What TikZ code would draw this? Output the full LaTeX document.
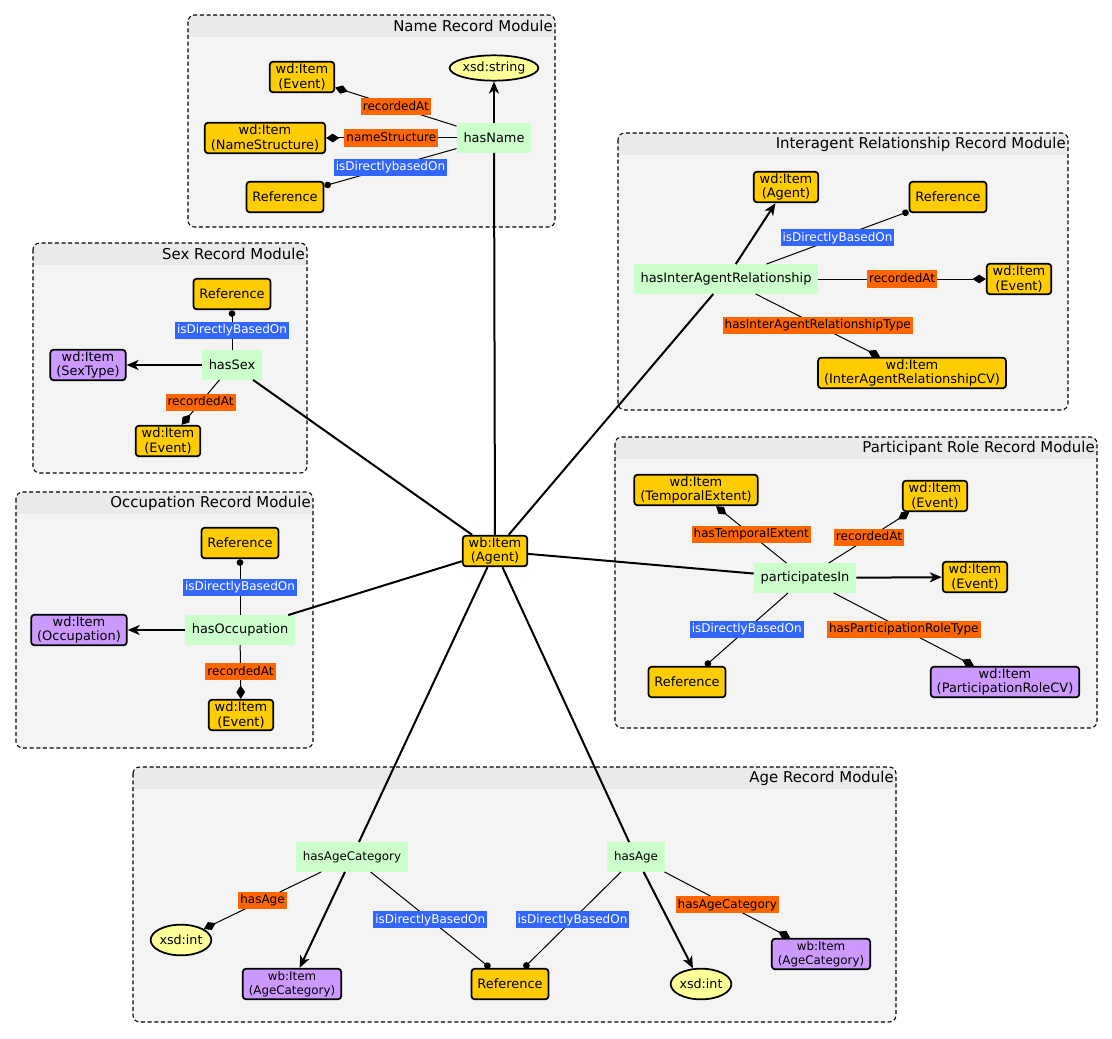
\documentclass[tikz,border=0pt]{standalone}
\usepackage{fontspec}
\setmainfont{DejaVu Sans}
\usetikzlibrary{arrows.meta,shapes.geometric,calc}
\definecolor{itemyellow}{HTML}{FFCC00}
\definecolor{itempurple}{HTML}{CC99FF}
\definecolor{propgreen}{HTML}{CCFFCC}
\definecolor{laborange}{HTML}{FF6600}
\definecolor{labblue}{HTML}{3366FF}
\definecolor{lityellow}{HTML}{FFFF99}
\definecolor{modfill}{HTML}{F4F4F4}
\definecolor{modhead}{HTML}{EAEAEA}
\tikzset{yitem/.style={draw, line width=1.3pt, rounded corners=2.5pt, fill=itemyellow,
      align=center, font=\fontsize{9.7}{11}\selectfont, minimum height=23pt,
      inner xsep=4.5pt, inner ysep=1pt},
    pitem/.style={yitem, fill=itempurple},
    propbox/.style={fill=propgreen, font=\fontsize{9.7}{11}\selectfont,
      minimum height=22pt, inner xsep=5pt},
    agefont/.style={font=\fontsize{8.9}{10.5}\selectfont},
    litnode/.style={ellipse, draw, line width=1.3pt, fill=lityellow, inner sep=0pt,
      font=\fontsize{9.5}{10}\selectfont},
    olabel/.style={fill=laborange, font=\fontsize{9}{10}\selectfont, inner xsep=1.5pt,
      inner ysep=2pt, text height=6.8pt, text depth=2pt},
    blabel/.style={olabel, fill=labblue, text=white},
    mainlink/.style={line width=1.5pt},
    sublink/.style={line width=0.75pt},
    toarrow/.style={mainlink, -{Stealth[length=9pt,width=7.5pt,inset=2.5pt]}},
    todiamond/.style={sublink, -{Diamond[length=10pt,width=6.5pt]}},
    todot/.style={sublink, -{Circle[length=5pt]}},}
% #1 name, #2 #3 top left, #4 #5 bottom right, #6 title
\newcommand{\recmodule}[6]{%
  \begin{scope}
    \clip[rounded corners=5pt] (#2,#3) rectangle (#4,#5);
    \fill[modfill] (#2,#3) rectangle (#4,#5);
    \fill[modhead] (#2,#3) rectangle (#4,#3+22);
  \end{scope}
  \draw[dashed, dash pattern=on 3pt off 2pt, line width=0.8pt, rounded corners=5pt]
    (#2,#3) rectangle (#4,#5);
  \node[anchor=east, font=\fontsize{11.2}{12}\selectfont, inner sep=0pt] (#1)
    at (#4-2,#3+11) {#6};}

\begin{document}
\begin{tikzpicture}[x=0.75pt, y=-0.75pt]
  \useasboundingbox (0,0) rectangle (1112,1038);
  \fill[white] (0,0) rectangle (1112,1038);
  % modules
  \recmodule{tname}{188}{15}{555}{227}{Name Record Module}
  \recmodule{tiar}{618}{133}{1068}{410}{Interagent Relationship Record Module}
  \recmodule{tsex}{33}{243}{307}{473}{Sex Record Module}
  \recmodule{tocc}{16}{492}{313}{748}{Occupation Record Module}
  \recmodule{tpart}{615}{437}{1097}{728}{Participant Role Record Module}
  \recmodule{tage}{133}{767}{896}{1022}{Age Record Module}
  % nodes
  \node[yitem] (agent) at (495,551) {wb:Item\\(Agent)};
  \node[litnode, minimum width=59pt, minimum height=19pt] (nstr) at (494,68) {xsd:string};
  \node[yitem] (nevent) at (302,77) {wd:Item\\(Event)};
  \node[yitem] (nstruct) at (265,138) {wd:Item\\(NameStructure)};
  \node[yitem] (nref) at (285,197) {Reference};
  \node[propbox] (hasname) at (494,138) {hasName};
  \node[yitem] (iagent) at (786,187) {wd:Item\\(Agent)};
  \node[yitem] (iref) at (948,197) {Reference};
  \node[propbox] (hasiar) at (726,279) {hasInterAgentRelationship};
  \node[yitem] (ievent) at (1019,279) {wd:Item\\(Event)};
  \node[yitem] (icv) at (912,373) {wd:Item\\(InterAgentRelationshipCV)};
  \node[yitem] (sref) at (232,294) {Reference};
  \node[propbox] (hassex) at (232,365) {hasSex};
  \node[pitem] (stype) at (88,365) {wd:Item\\(SexType)};
  \node[yitem] (sevent) at (168,441) {wd:Item\\(Event)};
  \node[yitem] (oref) at (240,543) {Reference};
  \node[propbox] (hasocc) at (240,630) {hasOccupation};
  \node[pitem] (otype) at (79,630) {wd:Item\\(Occupation)};
  \node[yitem] (oevent) at (241,715) {wd:Item\\(Event)};
  \node[yitem] (ptemp) at (696,490) {wd:Item\\(TemporalExtent)};
  \node[yitem] (prec) at (935,496) {wd:Item\\(Event)};
  \node[propbox] (partin) at (805,578) {participatesIn};
  \node[yitem] (pevent) at (975,577) {wd:Item\\(Event)};
  \node[yitem] (pref) at (687,682) {Reference};
  \node[pitem] (prole) at (1005,682) {wd:Item\\(ParticipationRoleCV)};
  \node[propbox, agefont] (hasagecat) at (352,857) {hasAgeCategory};
  \node[litnode, minimum width=42pt, minimum height=23pt] (aint1) at (181,940) {xsd:int};
  \node[pitem, agefont] (acat1) at (292,984) {wb:Item\\(AgeCategory)};
  \node[yitem] (aref) at (510,984) {Reference};
  \node[propbox, agefont] (hasage) at (636,857) {hasAge};
  \node[litnode, minimum width=44pt, minimum height=23pt] (aint2) at (701,984) {xsd:int};
  \node[pitem, agefont] (acat2) at (821,954) {wb:Item\\(AgeCategory)};
  \coordinate (arefl) at ($(aref.north)+(-20,0)$);
  \coordinate (arefr) at ($(aref.north)+(14,0)$);
  % links from the agent
  \draw[mainlink] (agent) -- (hasname);
  \draw[mainlink] (agent) -- (hasiar);
  \draw[mainlink] (agent) -- (hassex);
  \draw[mainlink] (agent) -- (hasocc);
  \draw[mainlink] (agent) -- (partin);
  \draw[mainlink] (agent) -- (hasagecat);
  \draw[mainlink] (agent) -- (hasage);
  % name
  \draw[toarrow] (hasname) -- (nstr);
  \draw[todiamond] (hasname) -- node[olabel] (l1) {recordedAt} (nevent);
  \draw[todiamond] (hasname) -- node[olabel] (l2) {nameStructure} (nstruct);
  \draw[todot] (hasname) -- node[blabel] (l3) {isDirectlybasedOn} (nref);
  % interagent
  \draw[toarrow] (hasiar) -- (iagent);
  \draw[todot] (hasiar) -- node[blabel] (l4) {isDirectlyBasedOn} (iref);
  \draw[todiamond] (hasiar) -- node[olabel] (l5) {recordedAt} (ievent);
  \draw[todiamond] (hasiar) -- node[olabel] (l6) {hasInterAgentRelationshipType} (icv);
  % sex
  \draw[todot] (hassex) -- node[blabel] (l7) {isDirectlyBasedOn} (sref);
  \draw[toarrow] (hassex) -- (stype);
  \draw[todiamond] (hassex) -- node[olabel] (l8) {recordedAt} (sevent);
  % occupation
  \draw[todot] (hasocc) -- node[blabel] (l9) {isDirectlyBasedOn} (oref);
  \draw[toarrow] (hasocc) -- (otype);
  \draw[todiamond] (hasocc) -- node[olabel] (l10) {recordedAt} (oevent);
  % participant role
  \draw[todiamond] (partin) -- node[olabel] (l11) {hasTemporalExtent} (ptemp);
  \draw[todiamond] (partin) -- node[olabel] (l12) {recordedAt} (prec);
  \draw[toarrow] (partin) -- (pevent);
  \draw[todot] (partin) -- node[blabel] (l13) {isDirectlyBasedOn} (pref);
  \draw[todiamond] (partin) -- node[olabel] (l14) {hasParticipationRoleType} (prole);
  % age
  \draw[todiamond] (hasagecat) -- node[olabel] (l15) {hasAge} (aint1);
  \draw[toarrow] (hasagecat) -- (acat1);
  \draw[todot] (hasagecat) -- node[blabel] (l16) {isDirectlyBasedOn} (arefl);
  \draw[todot] (hasage) -- node[blabel] (l17) {isDirectlyBasedOn} (arefr);
  \draw[toarrow] (hasage) -- (aint2);
  \draw[todiamond] (hasage) -- node[olabel] (l18) {hasAgeCategory} (acat2);
\end{tikzpicture}
\end{document}
